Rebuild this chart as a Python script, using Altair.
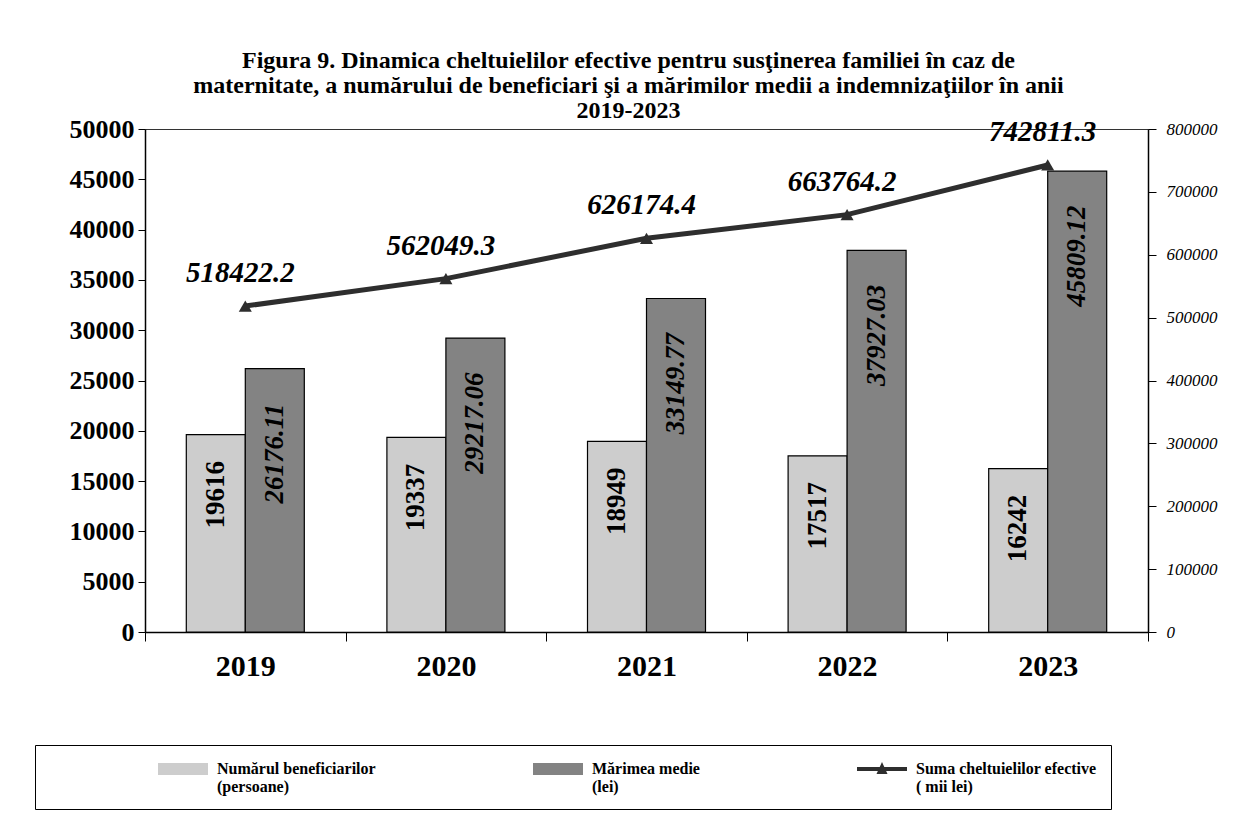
import altair as alt
import pandas as pd

years = ["2019", "2020", "2021", "2022", "2023"]
beneficiari = [19616, 19337, 18949, 17517, 16242]
marime_medie = [26176.11, 29217.06, 33149.77, 37927.03, 45809.12]
suma_cheltuieli = [518422.2, 562049.3, 626174.4, 663764.2, 742811.3]

series = [
    "Numărul beneficiarilor|(persoane)",
    "Mărimea medie|(lei)",
    "Suma cheltuielilor efective|( mii lei)",
]
series_colors = ["#cdcdcd", "#838383", "#2e2e2e"]
left_ticks = [0, 5000, 10000, 15000, 20000, 25000, 30000, 35000, 40000, 45000, 50000]
right_ticks = [0, 100000, 200000, 300000, 400000, 500000, 600000, 700000, 800000]
title_lines = [
    "Figura 9. Dinamica cheltuielilor efective pentru susţinerea familiei în caz de",
    "maternitate, a numărului de beneficiari şi a mărimilor medii a indemnizaţiilor în anii",
    "2019-2023",
]

FONT = "Liberation Serif"

bars_df = pd.DataFrame({
    "year": years * 2,
    "series": [series[0]] * 5 + [series[1]] * 5,
    "value": beneficiari + marime_medie,
    "label": [f"{v:d}" for v in beneficiari] + [f"{v:.2f}" for v in marime_medie],
    "kind": ["n"] * 5 + ["m"] * 5,
})
line_df = pd.DataFrame({
    "year": years,
    "value": suma_cheltuieli,
    "label": [f"{v:.1f}" for v in suma_cheltuieli],
})
legend_df = pd.DataFrame({"series": series})

shape_paths = [
    "M-2.5,-0.6H2.5V0.6H-2.5Z",
    "M-2.5,-0.6H2.5V0.6H-2.5Z",
    "M-2.5,-0.2H2.5V0.2H-2.5Z M-0.55,0.5L0,-0.7L0.55,0.5Z",
]

leg = alt.Legend(
    title=" ", titleOrient="left", titlePadding=124, titleFontSize=12,
    orient="none", legendX=-110, legendY=616,
    direction="horizontal", columns=3, columnPadding=157,
    labelExpr="split(datum.label, '|')",
    labelFont=FONT, labelFontSize=16, labelFontWeight="bold", labelColor="black",
    labelOffset=24, labelLimit=400, labelBaseline="middle",
    symbolSize=400, symbolStrokeWidth=0,
    strokeColor="black", padding=14,
)

x_enc = alt.X(
    "year:N",
    scale=alt.Scale(domain=years, paddingInner=0, paddingOuter=0),
    axis=alt.Axis(
        title=None, labelAngle=0, tickBand="extent", tickSize=9, tickColor="black",
        domainColor="black", domainWidth=1.5, labelFont=FONT, labelFontSize=30,
        labelFontWeight="bold", labelColor="black", labelPadding=10,
    ),
)
xoff = alt.XOffset("series:N", scale=alt.Scale(domain=series[:2], paddingInner=0, paddingOuter=0.7))
y_left = alt.Y(
    "value:Q",
    scale=alt.Scale(domain=[0, 50000]),
    axis=alt.Axis(
        title=None, values=left_ticks, format="d", grid=False, tickSize=7,
        tickColor="black", domainColor="black", domainWidth=1.5,
        labelFont=FONT, labelFontSize=26, labelFontWeight="bold", labelColor="black",
        labelPadding=4,
    ),
)
color = alt.Color("series:N", scale=alt.Scale(domain=series, range=series_colors), legend=leg)

bars = alt.Chart(bars_df).mark_bar(stroke="black", strokeWidth=1.2).encode(
    x=x_enc, xOffset=xoff, y=y_left, color=color
)
lab_n = alt.Chart(bars_df).transform_filter(alt.datum.kind == "n").mark_text(
    angle=270, dx=-60, align="center", baseline="middle",
    font=FONT, fontSize=27, fontWeight="bold", color="black",
).encode(x=x_enc, xOffset=xoff, y=y_left, text="label:N")
lab_m = alt.Chart(bars_df).transform_filter(alt.datum.kind == "m").mark_text(
    angle=270, dx=-85, align="center", baseline="middle",
    font=FONT, fontSize=27, fontWeight="bold", fontStyle="italic", color="black",
).encode(x=x_enc, xOffset=xoff, y=y_left, text="label:N")
legend_layer = alt.Chart(legend_df).transform_filter(alt.datum.series == "none").mark_point(
    filled=True
).encode(
    color=color,
    shape=alt.Shape("series:N", scale=alt.Scale(domain=series, range=shape_paths), legend=leg),
)

left_group = alt.layer(bars, lab_n, lab_m, legend_layer)

y_right = alt.Y(
    "value:Q",
    scale=alt.Scale(domain=[0, 800000]),
    axis=alt.Axis(
        title=None, orient="right", values=right_ticks, format="d", grid=False,
        tickSize=8, tickColor="black", domainColor="black", domainWidth=1.5,
        labelFont=FONT, labelFontSize=17, labelFontStyle="italic", labelColor="black",
        labelPadding=10,
    ),
)
line = alt.Chart(line_df).mark_line(color="#2e2e2e", strokeWidth=5).encode(x=x_enc, y=y_right)
pts = alt.Chart(line_df).mark_point(
    shape="triangle-up", filled=True, size=170, color="#2e2e2e", opacity=1
).encode(x=x_enc, y=y_right)
line_lab = alt.Chart(line_df).mark_text(
    dy=-33, dx=-5, font=FONT, fontSize=29, fontWeight="bold", fontStyle="italic", color="black"
).encode(x=x_enc, y=y_right, text="label:N")

right_group = alt.layer(line, pts, line_lab)

chart = alt.layer(left_group, right_group).resolve_scale(y="independent").properties(
    width=1003, height=503,
    autosize=alt.AutoSizeParams(type="none"),
    padding={"left": 137, "top": 121, "right": 98, "bottom": 178},
    background="white",
    title=alt.TitleParams(
        text=title_lines, font=FONT, fontSize=24, fontWeight="bold", color="black",
        anchor="middle", dx=-18, offset=-7, lineHeight=25,
    ),
).configure_view(stroke="#333", strokeWidth=1)

chart.save("out.html", embed_options={"renderer": "svg", "actions": False})
